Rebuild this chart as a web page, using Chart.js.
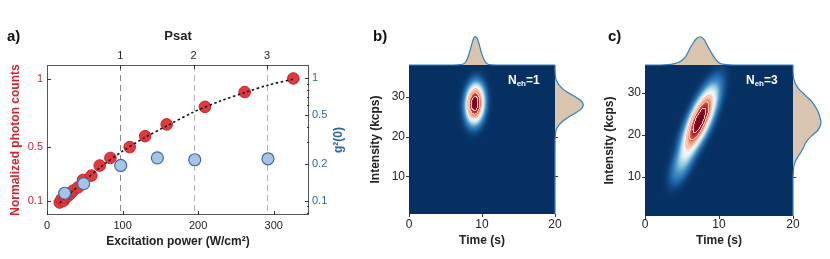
<!DOCTYPE html>
<html>
<head>
<meta charset="utf-8">
<script src="https://cdn.jsdelivr.net/npm/chart.js@4.4.0/dist/chart.umd.min.js"></script>
<style>
html, body { margin: 0; padding: 0; background: #fff; }
#wrap { position: relative; width: 830px; height: 259px; overflow: hidden; }
#wrap canvas { position: absolute; }
</style>
</head>
<body>
<div id="wrap">
  <canvas id="chartA" width="350" height="259" style="left:0;top:0"></canvas>
  <canvas id="heatB" width="220" height="259" style="left:360px;top:0"></canvas>
  <canvas id="heatC" width="220" height="259" style="left:600px;top:0"></canvas>
  <canvas id="topB" width="146" height="40" style="left:409px;top:28px"></canvas>
  <canvas id="sideB" width="36" height="149" style="left:553px;top:65px"></canvas>
  <canvas id="topC" width="148" height="40" style="left:645px;top:28px"></canvas>
  <canvas id="sideC" width="38" height="151" style="left:791px;top:65px"></canvas>
</div>
<script>
// Panel a - photon counts and g2(0) vs excitation power
const powerRed  = [16.8, 19, 22, 24.5, 27.8, 31, 34.4, 41, 47.6, 58.7, 69.7, 83.9, 109.4, 129.9, 158.3, 208.9, 261.5, 325.9];
const countsRed = [0.092, 0.115, 0.105, 0.128, 0.142, 0.157, 0.179, 0.203, 0.258, 0.29, 0.364, 0.42, 0.5, 0.58, 0.667, 0.796, 0.905, 1.005];
const powerBlue = [23.4, 48.5, 97.5, 146, 195.4, 292.3];
const g2Blue    = [0.115, 0.138, 0.194, 0.224, 0.216, 0.22];
const fitPower  = [16.8, 30, 50, 75, 100, 130, 160, 194, 230, 261, 292, 326];
const fitCounts = [0.088, 0.155, 0.255, 0.37, 0.47, 0.572, 0.66, 0.758, 0.84, 0.9, 0.955, 1.0];
const psat = 97;
const powerTicks = [0, 100, 200, 300];
const psatTicks = [1, 2, 3];
const countTicks = [0.1, 0.5, 1];
const g2Ticks = [0.1, 0.2, 0.5, 1];
const g2Minor = [0.08, 0.09, 0.3, 0.4, 0.6, 0.7, 0.8, 0.9];

// Panels b, c - intensity/time density maps (blobs)
const timeTicks = [0, 10, 20];
const intensityTicks = [10, 20, 30];
const blobsB = [{ t: 9.05, i: 28.2, st: 0.95, si: 3.6, rho: 0.1, w: 1 }];
const blobsC = [
    { t: 7.4, i: 23.4, st: 1.7, si: 5.8, rho: 0.75, w: 1 },
    { t: 5.0, i: 13.0, st: 1.2, si: 3.6, rho: 0.6, w: 0.2 }
];
const blobShape = 2.5;
const contourLevels = [0.6, 0.78, 0.92];
const nehB = 1;
const nehC = 3;

// marginal curves (normalised)
const timeB = [0, 6, 7, 7.5, 8, 8.5, 8.75, 9, 9.25, 9.5, 10, 10.5, 11, 12, 20];
const margTimeB = [0, 0, 0.01, 0.04, 0.22, 0.63, 0.86, 0.99, 0.97, 0.82, 0.36, 0.09, 0.01, 0, 0];
const intB = [0.6, 18, 20, 22, 24, 25, 26, 27, 28, 29, 30, 31, 32, 34, 36, 37.9];
const margIntB = [0, 0, 0.01, 0.06, 0.3, 0.51, 0.75, 0.94, 1, 0.91, 0.7, 0.46, 0.26, 0.05, 0.005, 0];
const timeC = [0, 2, 3, 4, 4.5, 5, 5.5, 6, 6.5, 7, 7.5, 8, 8.5, 9, 9.5, 10, 10.5, 11, 12, 20];
const margTimeC = [0, 0, 0.01, 0.05, 0.09, 0.17, 0.3, 0.55, 0.78, 0.95, 1, 0.9, 0.66, 0.42, 0.22, 0.08, 0.03, 0.01, 0, 0];
const intC = [0.64, 10, 11, 12, 13, 14, 15, 16, 17, 18, 19, 20, 21, 22, 23, 24, 25, 26, 27, 28, 29, 30, 31, 32, 33, 34, 36, 36.6];
const margIntC = [0, 0, 0.01, 0.02, 0.05, 0.11, 0.2, 0.3, 0.38, 0.45, 0.56, 0.72, 0.88, 0.97, 1, 0.97, 0.93, 0.86, 0.77, 0.66, 0.5, 0.35, 0.2, 0.1, 0.04, 0.01, 0, 0];

const FONT = '"Liberation Sans", Arial, Helvetica, sans-serif';
Chart.defaults.font.family = FONT;
const RED = '#cf2630';
const BLUE = '#2c679f';
const INK = '#222';

function pts(xs, ys) {
    return xs.map((v, k) => ({ x: v, y: ys[k] }));
}
function fixTicks(list) {
    return function(scale) { scale.ticks = list.map(v => ({ value: v })); };
}

// ---------- panel a ----------
const frameA = {
    id: 'frameA',
    beforeDatasetsDraw(chart) {
        const { ctx, chartArea: a, scales } = chart;
        const shades = ['#8a8a8a', '#b4b4b4', '#b4b4b4'];
        ctx.save();
        ctx.lineWidth = 1;
        ctx.setLineDash([6, 4]);
        psatTicks.forEach((v, k) => {
            const px = Math.round(scales.x2.getPixelForValue(v)) + 0.5;
            ctx.strokeStyle = shades[k];
            ctx.beginPath();
            ctx.moveTo(px, a.top);
            ctx.lineTo(px, a.bottom);
            ctx.stroke();
        });
        ctx.restore();
    },
    afterDraw(chart) {
        const { ctx, chartArea: a, scales } = chart;
        ctx.save();
        ctx.strokeStyle = '#555';
        ctx.lineWidth = 1;
        ctx.strokeRect(a.left + 0.5, a.top + 0.5, a.right - a.left - 1, a.bottom - a.top - 1);
        ctx.strokeStyle = '#333';
        ctx.beginPath();
        powerTicks.forEach(v => {
            const px = Math.round(scales.x.getPixelForValue(v)) + 0.5;
            ctx.moveTo(px, a.bottom); ctx.lineTo(px, a.bottom - 4);
        });
        psatTicks.forEach(v => {
            const px = Math.round(scales.x2.getPixelForValue(v)) + 0.5;
            ctx.moveTo(px, a.top); ctx.lineTo(px, a.top + 4);
        });
        countTicks.forEach(v => {
            const py = Math.round(scales.y.getPixelForValue(v)) + 0.5;
            ctx.moveTo(a.left, py); ctx.lineTo(a.left + 4, py);
        });
        g2Ticks.forEach(v => {
            const py = Math.round(scales.y2.getPixelForValue(v)) + 0.5;
            ctx.moveTo(a.right, py); ctx.lineTo(a.right - 4, py);
        });
        g2Minor.forEach(v => {
            const py = Math.round(scales.y2.getPixelForValue(v)) + 0.5;
            ctx.moveTo(a.right, py); ctx.lineTo(a.right - 2, py);
        });
        ctx.stroke();

        ctx.fillStyle = '#111';
        ctx.font = 'bold 15px ' + FONT;
        ctx.textAlign = 'left';
        ctx.textBaseline = 'alphabetic';
        ctx.fillText('a)', 7, 41);

        ctx.fillStyle = BLUE;
        ctx.font = 'bold 12px ' + FONT;
        ctx.translate(339, (a.top + a.bottom) / 2);
        ctx.rotate(-Math.PI / 2);
        ctx.textAlign = 'center';
        ctx.textBaseline = 'middle';
        ctx.fillText('g\u00b2(0)', 0, 0);
        ctx.restore();
    }
};

new Chart(document.getElementById('chartA'), {
    type: 'scatter',
    data: {
        datasets: [
            {
                label: 'g2(0)',
                data: pts(powerBlue, g2Blue),
                yAxisID: 'y2',
                backgroundColor: '#a8c4e5',
                borderColor: '#3a6da6',
                borderWidth: 1.2,
                pointRadius: 6,
                order: 0
            },
            {
                label: 'fit',
                type: 'line',
                data: pts(fitPower, fitCounts),
                yAxisID: 'y',
                borderColor: '#111',
                borderWidth: 1.6,
                borderDash: [2.5, 2.5],
                pointRadius: 0,
                tension: 0.3,
                fill: false,
                order: 1
            },
            {
                label: 'counts',
                data: pts(powerRed, countsRed),
                yAxisID: 'y',
                backgroundColor: '#e2393f',
                borderColor: '#c4252c',
                borderWidth: 1,
                pointRadius: 5.8,
                order: 2
            }
        ]
    },
    options: {
        responsive: false,
        animation: false,
        devicePixelRatio: 1,
        layout: { padding: 0 },
        plugins: { legend: { display: false }, tooltip: { enabled: false } },
        scales: {
            x: {
                type: 'linear', position: 'bottom', min: 0, max: 346.6,
                grid: { display: false, drawTicks: false }, border: { display: false },
                afterBuildTicks: fixTicks(powerTicks),
                afterFit: s => { s.height = 44; },
                ticks: { padding: 4, color: INK, font: { size: 11 }, autoSkip: false, maxRotation: 0, callback: v => String(v) },
                title: { display: true, text: 'Excitation power (W/cm\u00b2)', color: INK, font: { size: 12, weight: 'bold' }, padding: { top: 0, bottom: 10 } }
            },
            x2: {
                type: 'linear', position: 'top', min: 0, max: 346.6 / psat,
                grid: { display: false, drawTicks: false }, border: { display: false },
                afterBuildTicks: fixTicks(psatTicks),
                afterFit: s => { s.height = 65; },
                ticks: { padding: 2, color: INK, font: { size: 11 }, autoSkip: false, maxRotation: 0, callback: v => String(v) },
                title: { display: true, text: 'Psat', color: INK, font: { size: 13, weight: 'bold' }, padding: { top: 29, bottom: 0 } }
            },
            y: {
                type: 'linear', position: 'left', min: 0, max: 1.104,
                grid: { display: false, drawTicks: false }, border: { display: false },
                afterBuildTicks: fixTicks(countTicks),
                afterFit: s => { s.width = 47; },
                ticks: { padding: 4, color: RED, font: { size: 11 }, autoSkip: false, callback: v => String(v) },
                title: { display: true, text: 'Normalized photon counts', color: RED, font: { size: 12, weight: 'bold' }, padding: { top: 8, bottom: 0 } }
            },
            y2: {
                type: 'logarithmic', position: 'right', min: 0.0764, max: 1.284,
                grid: { display: false, drawTicks: false }, border: { display: false },
                afterBuildTicks: fixTicks(g2Ticks),
                afterFit: s => { s.width = 41; },
                ticks: { padding: 3, color: BLUE, font: { size: 11 }, autoSkip: false, callback: v => String(v) }
            }
        }
    },
    plugins: [frameA]
});

// ---------- panels b, c ----------
const rdbu = ['#053061', '#2166ac', '#4393c3', '#92c5de', '#d1e5f0', '#f7f7f7', '#fddbc7', '#f4a582', '#d6604d', '#b2182b', '#67001f'].map(h => [
    parseInt(h.slice(1, 3), 16), parseInt(h.slice(3, 5), 16), parseInt(h.slice(5, 7), 16)
]);
function shade(v) {
    const p = Math.max(0, Math.min(1, v)) * (rdbu.length - 1);
    const k = Math.min(Math.floor(p), rdbu.length - 2);
    const f = p - k;
    return [0, 1, 2].map(c => rdbu[k][c] + (rdbu[k + 1][c] - rdbu[k][c]) * f);
}

const heatLayer = {
    id: 'heatLayer',
    beforeDatasetsDraw(chart, args, opts) {
        const { ctx, chartArea: area, scales: { x, y } } = chart;
        const left = Math.round(area.left), top = Math.round(area.top);
        const w = Math.round(area.right) - left, h = Math.round(area.bottom) - top;
        const dens = new Float32Array(w * h);
        let peak = 0;
        for (let r = 0; r < h; r++) {
            const iv = y.getValueForPixel(top + r + 0.5);
            for (let c = 0; c < w; c++) {
                const tv = x.getValueForPixel(left + c + 0.5);
                let d = 0;
                opts.blobs.forEach(g => {
                    const u = (tv - g.t) / g.st, v = (iv - g.i) / g.si;
                    const z = (u * u - 2 * g.rho * u * v + v * v) / (1 - g.rho * g.rho);
                    d += g.w * Math.exp(-0.5 * Math.pow(z, blobShape / 2));
                });
                dens[r * w + c] = d;
                if (d > peak) peak = d;
            }
        }
        const img = ctx.createImageData(w, h);
        for (let r = 0; r < h; r++) {
            for (let c = 0; c < w; c++) {
                const k = r * w + c;
                const v = dens[k] / peak;
                let col = shade(v);
                const vr = c + 1 < w ? dens[k + 1] / peak : v;
                const vd = r + 1 < h ? dens[k + w] / peak : v;
                contourLevels.forEach(L => {
                    if ((v >= L) !== (vr >= L) || (v >= L) !== (vd >= L)) col = [252, 190, 170];
                });
                img.data[4 * k] = col[0];
                img.data[4 * k + 1] = col[1];
                img.data[4 * k + 2] = col[2];
                img.data[4 * k + 3] = 255;
            }
        }
        ctx.putImageData(img, left, top);
    },
    afterDraw(chart, args, opts) {
        const { ctx, chartArea: a, scales: { x, y } } = chart;
        ctx.save();
        ctx.strokeStyle = '#333';
        ctx.lineWidth = 1;
        ctx.beginPath();
        timeTicks.forEach(v => {
            const px = Math.round(x.getPixelForValue(v)) + 0.5;
            ctx.moveTo(px, a.bottom); ctx.lineTo(px, a.bottom + 3);
        });
        intensityTicks.forEach(v => {
            const py = Math.round(y.getPixelForValue(v)) + 0.5;
            ctx.moveTo(a.left, py); ctx.lineTo(a.left - 3, py);
            ctx.moveTo(a.right, py); ctx.lineTo(a.right + 3, py);
        });
        ctx.stroke();

        // N_eh label
        let tx = a.right - 47;
        const ty = a.top + 19;
        ctx.fillStyle = '#fff';
        ctx.textAlign = 'left';
        ctx.textBaseline = 'alphabetic';
        ctx.font = 'bold 12px ' + FONT;
        ctx.fillText('N', tx, ty);
        tx += ctx.measureText('N').width;
        ctx.font = 'bold 8px ' + FONT;
        ctx.fillText('eh', tx, ty + 2);
        tx += ctx.measureText('eh').width;
        ctx.font = 'bold 12px ' + FONT;
        ctx.fillText('=' + opts.neh, tx, ty);

        ctx.fillStyle = '#111';
        ctx.font = 'bold 15px ' + FONT;
        ctx.fillText(opts.tag, opts.tagX, 41);
        ctx.restore();
    }
};

function makeHeat(id, blobs, yMin, yMax, axisW, axisH, padRight, titleGap, tickGap, neh, tag, tagX) {
    return new Chart(document.getElementById(id), {
        type: 'scatter',
        data: { datasets: [{ data: [] }] },
        options: {
            responsive: false,
            animation: false,
            devicePixelRatio: 1,
            layout: { padding: { top: 65, right: padRight, left: 0, bottom: 0 } },
            plugins: {
                legend: { display: false },
                tooltip: { enabled: false },
                heatLayer: { blobs: blobs, neh: neh, tag: tag, tagX: tagX }
            },
            scales: {
                x: {
                    type: 'linear', min: 0, max: 20,
                    grid: { display: false, drawTicks: false }, border: { display: false },
                    afterBuildTicks: fixTicks(timeTicks),
                    afterFit: s => { s.height = axisH; },
                    ticks: { padding: tickGap, color: INK, font: { size: 12 }, autoSkip: false, maxRotation: 0, callback: v => String(v) },
                    title: { display: true, text: 'Time (s)', color: INK, font: { size: 12, weight: 'bold' }, padding: { top: 0, bottom: 11.5 } }
                },
                y: {
                    type: 'linear', min: yMin, max: yMax,
                    grid: { display: false, drawTicks: false }, border: { display: false },
                    afterBuildTicks: fixTicks(intensityTicks),
                    afterFit: s => { s.width = axisW; },
                    ticks: { padding: 4, color: INK, font: { size: 12 }, autoSkip: false, callback: v => String(v) },
                    title: { display: true, text: 'Intensity (kcps)', color: INK, font: { size: 12, weight: 'bold' }, padding: { top: titleGap, bottom: 0 } }
                }
            }
        },
        plugins: [heatLayer]
    });
}

makeHeat('heatB', blobsB, 0.6, 37.9, 49, 45, 25, 8.5, 3, nehB, 'b)', 13);
makeHeat('heatC', blobsC, 0.64, 36.6, 45, 43, 27, 2.8, 1, nehC, 'c)', 8);

// marginal densities
function makeMarginal(id, data, side, vMax, iMin, iMax) {
    const hidden = { display: false };
    const valueScale = Object.assign({ type: 'linear', min: 0, max: vMax }, hidden);
    const indexScale = Object.assign({ type: 'linear', min: iMin, max: iMax }, hidden);
    return new Chart(document.getElementById(id), {
        type: 'line',
        data: {
            datasets: [{
                data: data,
                borderColor: '#2f7fc0',
                borderWidth: 1.2,
                backgroundColor: '#d8c4af',
                fill: 'origin',
                pointRadius: 0,
                tension: 0.4,
                cubicInterpolationMode: 'monotone',
                clip: false
            }]
        },
        options: {
            responsive: false,
            animation: false,
            devicePixelRatio: 1,
            indexAxis: side ? 'y' : 'x',
            layout: { padding: side ? { left: 2, right: 0, top: 0, bottom: 0 } : { left: 0, right: 0, top: 0, bottom: 3 } },
            plugins: { legend: { display: false }, tooltip: { enabled: false } },
            scales: side ? { x: valueScale, y: indexScale } : { x: indexScale, y: valueScale }
        }
    });
}

makeMarginal('topB', pts(timeB, margTimeB), false, 1.29, 0, 20);
makeMarginal('sideB', intB.map((v, k) => ({ x: margIntB[k], y: v })), true, 1.2, 0.6, 37.9);
makeMarginal('topC', pts(timeC, margTimeC), false, 1.31, 0, 20);
makeMarginal('sideC', intC.map((v, k) => ({ x: margIntC[k], y: v })), true, 1.29, 0.64, 36.6);
</script>
</body>
</html>
